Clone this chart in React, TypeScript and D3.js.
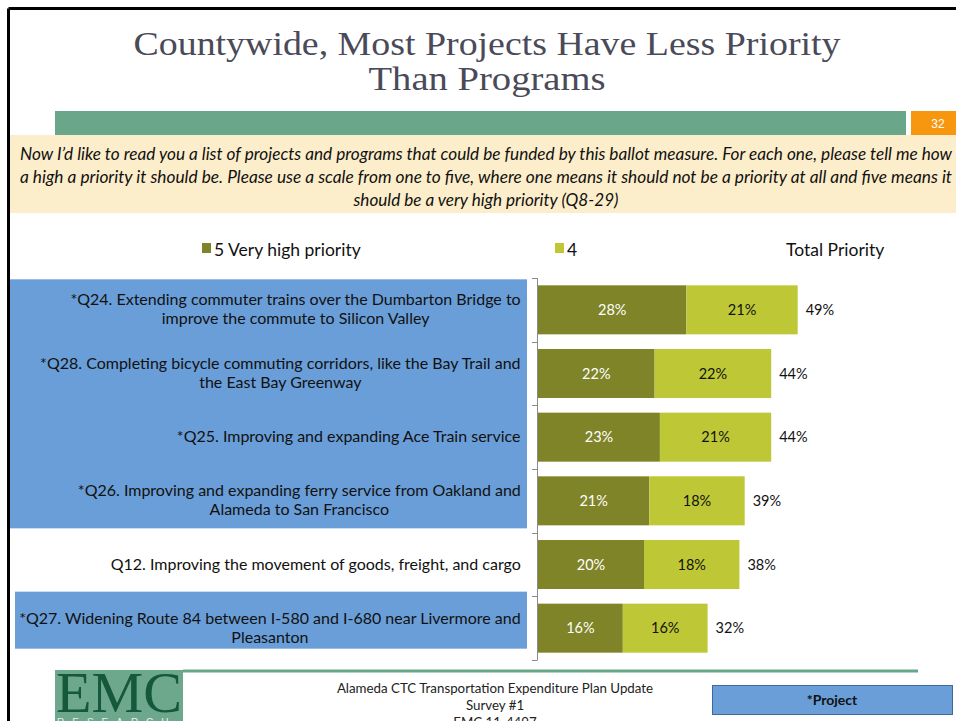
import React from "react";
import * as d3 from "d3";

const title = ["Countywide, Most Projects Have Less Priority", "Than Programs"];
const titleWidths = [707, 237];
const question = [
  "Now I\u2019d like to read you a list of projects and programs that could be funded by this ballot measure.  For each one, please tell me how",
  "a high a priority it should be.  Please use a scale from one to five, where one means it should not be a priority at all and five means it",
  "should be a very high priority (Q8-29)",
];
const questionWidths = [932, 932, 265];
const categories = [
  ["*Q24. Extending commuter trains over the Dumbarton Bridge to", "improve the commute to Silicon Valley"],
  ["*Q28. Completing bicycle commuting corridors, like the Bay Trail and", "the East Bay Greenway"],
  ["*Q25. Improving and expanding Ace Train service"],
  ["*Q26. Improving and expanding ferry service from Oakland and", "Alameda to San Francisco"],
  ["Q12. Improving the movement of goods, freight, and cargo"],
  ["*Q27. Widening Route 84 between I-580 and I-680 near Livermore and", "Pleasanton"],
];
const veryHigh = [28, 22, 23, 21, 20, 16];
const high = [21, 22, 21, 18, 18, 16];
const totals = [49, 44, 44, 39, 38, 32];
const projectGroups = [[0, 3], [5, 5]];
const legendLabels = ["5 Very high priority", "4", "Total Priority"];
const slideNumber = "32";
const footerLines = ["Alameda CTC Transportation Expenditure Plan Update", "Survey #1", "EMC 11-4497"];
const projectNote = "*Project";

const W = 956;
const H = 721;
const DARK = "#7e8427";
const LIGHT = "#bec836";
const BLUE = "#6a9ed8";
const SANS = "Lato, 'Open Sans', sans-serif";

let ctx: CanvasRenderingContext2D | null = null;
function measure(text: string, font: string) {
  if (!ctx) ctx = document.createElement("canvas").getContext("2d");
  if (!ctx) return text.length * 7;
  ctx.font = font;
  return ctx.measureText(text).width;
}

export default function App() {
  const idx = categories.map((_, i) => i);
  const y = d3.scaleBand<number>().domain(idx).range([278, 660]).paddingInner(0.23).paddingOuter(0.115);
  const x = d3.scaleLinear().domain([0, 80]).range([538, 538 + 424]);
  const bw = y.bandwidth();
  const labelSize = 16;
  const labelFont = `${labelSize}px ${SANS}`;
  const labelRight = 521;
  const lineH = 19;

  return (
    <svg width={W} height={H} style={{ position: "absolute", left: 0, top: 0, background: "#fff" }}>
      {/* slide frame */}
      <line x1={8.5} y1={8.5} x2={W} y2={8.5} stroke="#000" strokeWidth={3} />
      <line x1={8.5} y1={8.5} x2={8.5} y2={H} stroke="#000" strokeWidth={3} />

      {/* title */}
      {title.map((t, i) => (
        <text key={i} x={487} y={55 + i * 35} textAnchor="middle" fontFamily="'Liberation Serif', serif" fontSize={34} fill="#4a4a58"
          textLength={titleWidths[i]} lengthAdjust="spacingAndGlyphs">
          {t}
        </text>
      ))}

      {/* header bars */}
      <rect x={55} y={111} width={851} height={24} fill="#69a68a" />
      <rect x={911} y={111} width={45} height={24} fill="#f7960f" />
      <text x={938} y={128} textAnchor="middle" fontFamily="'Liberation Sans', Arial, sans-serif" fontSize={12} fill="#fff">
        {slideNumber}
      </text>
      <rect x={10} y={135} width={946} height={78} fill="#fdeecb" />
      {question.map((t, i) => (
        <text key={i} x={486} y={160 + i * 23} textAnchor="middle" fontFamily={SANS} fontStyle="italic" fontSize={16.5} fill="#111"
          textLength={questionWidths[i]} lengthAdjust="spacingAndGlyphs">
          {t}
        </text>
      ))}

      {/* legend */}
      <rect x={202} y={243} width={9} height={10} fill={DARK} />
      <text x={214} y={256} fontFamily={SANS} fontSize={17.5} fill="#111">{legendLabels[0]}</text>
      <rect x={555} y={243} width={9} height={10} fill={LIGHT} />
      <text x={567} y={256} fontFamily={SANS} fontSize={17.5} fill="#111">{legendLabels[1]}</text>
      <text x={786} y={256} fontFamily={SANS} fontSize={17.5} fill="#111">{legendLabels[2]}</text>

      {/* project highlight boxes */}
      {projectGroups.map(([a, b], gi) => {
        const top = gi === 0 ? (y(a) as number) - 6 : (y(a) as number) - 12;
        const bottom = gi === 0 ? (y(b) as number) + bw + 3 : (y(b) as number) + bw - 4;
        const left = gi === 0 ? 10 : 15;
        return <rect key={gi} x={left} y={top} width={527 - left} height={bottom - top} fill={BLUE} />;
      })}

      {/* category labels */}
      {categories.map((lines, i) => {
        const cy = (y(i) as number) + bw / 2;
        const maxW = Math.max(...lines.map((l) => measure(l, labelFont)));
        const cx = labelRight - maxW / 2;
        const y0 = cy - ((lines.length - 1) * lineH) / 2 + 5;
        return (
          <text key={i} textAnchor="middle" fontFamily={SANS} fontSize={labelSize} fill="#111">
            {lines.map((l, j) => (
              <tspan key={j} x={cx} y={y0 + j * lineH}>{l}</tspan>
            ))}
          </text>
        );
      })}

      {/* axis */}
      <line x1={537.5} y1={278} x2={537.5} y2={660} stroke="#8c8c8c" strokeWidth={1} />
      {d3.range(categories.length + 1).map((k) => {
        const ty = Math.round(278 + k * y.step()) + 0.5;
        return <line key={k} x1={532} y1={ty} x2={537.5} y2={ty} stroke="#8c8c8c" strokeWidth={1} />;
      })}

      {/* bars */}
      {idx.map((i) => {
        const top = y(i) as number;
        const x0 = x(0);
        const x1 = x(veryHigh[i]);
        const x2 = x(veryHigh[i] + high[i]);
        const cy = top + bw / 2 + 5;
        return (
          <g key={i}>
            <rect x={x0} y={top} width={x1 - x0} height={bw} fill={DARK} />
            <rect x={x1} y={top} width={x2 - x1} height={bw} fill={LIGHT} />
            <text x={(x0 + x1) / 2} y={cy} textAnchor="middle" fontFamily={SANS} fontSize={14.5} fill="#fff">
              {veryHigh[i]}%
            </text>
            <text x={(x1 + x2) / 2} y={cy} textAnchor="middle" fontFamily={SANS} fontSize={14.5} fill="#111">
              {high[i]}%
            </text>
            <text x={x(totals[i]) + 8} y={cy} fontFamily={SANS} fontSize={14.5} fill="#111">
              {totals[i]}%
            </text>
          </g>
        );
      })}

      {/* footer */}
      <line x1={183} y1={671} x2={918} y2={671} stroke="#69a68a" strokeWidth={3} />
      <rect x={55} y={670} width={128} height={51} fill="#6ea88c" />
      <text x={119} y={712} textAnchor="middle" fontFamily="'Liberation Serif', serif" fontSize={56} fill="#15583a" textLength={126} lengthAdjust="spacingAndGlyphs">
        EMC
      </text>
      <text x={57} y={726} fontFamily="'Liberation Sans', sans-serif" fontSize={10} fill="#e8f2ec" letterSpacing={8}>
        RESEARCH
      </text>
      {footerLines.map((t, i) => (
        <text key={i} x={495} y={693 + i * 17} textAnchor="middle" fontFamily={SANS} fontSize={13.3} fill="#222">
          {t}
        </text>
      ))}
      <rect x={712.5} y={685.5} width={240} height={29} fill={BLUE} stroke="#41689a" strokeWidth={1} />
      <text x={832} y={705} textAnchor="middle" fontFamily={SANS} fontWeight="bold" fontSize={14} fill="#111">
        {projectNote}
      </text>
    </svg>
  );
}
